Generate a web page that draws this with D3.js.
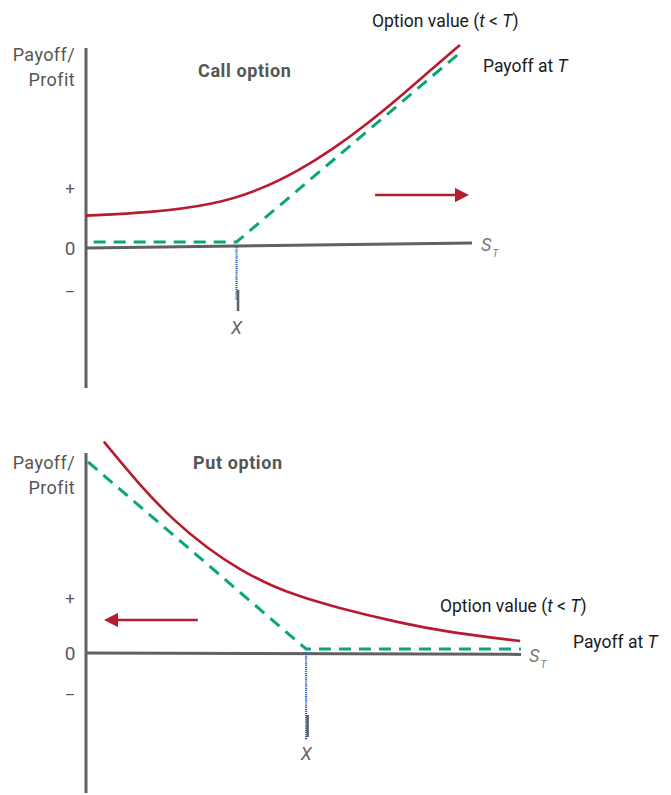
<!DOCTYPE html>
<html><head><meta charset="utf-8">
<script src="https://cdn.jsdelivr.net/npm/d3@7"></script>
<style>body{margin:0;background:#fff}svg{display:block}</style>
</head><body>
<svg id="chart" width="671" height="795"></svg>
<script>
// ---------- DATA ----------
const panels = ["Call option", "Put option"];
const yTickLabels = ["+", "0", "\u2013"];
const callTickValues = [30, 0, -22];
const putTickValues = [27.5, 0, -21];
const callStrike = 39;
const putStrike = 50.6;
// option value before expiry (t < T): [S, value]
const callValueX = [0, 16.6, 32.9, 45.1, 55.4, 64.0, 72.8, 81.3, 89.9, 96.9];
const callValueY = [16.2, 17.7, 21.5, 29, 39, 49.5, 62, 75.5, 90, 101.5];
const putValueX = [4.1, 12.4, 20, 27.8, 35.4, 43, 49.2, 56.8, 72.2, 83.7, 99.8];
const putValueY = [105.7, 83.8, 66.5, 52.5, 41.5, 33.2, 28.2, 23.2, 15, 10.2, 6];
// payoff at expiry T
const callPayoffX = [2, 39, 97.4];
const callPayoffY = [3, 3, 98.5];
const putPayoffX = [0.5, 50.6, 100];
const putPayoffY = [95.5, 2, 2];
// horizontal axis end heights (drawn slightly tilted in source)
const callAxisY = [0, 2.5];
const putAxisY = [0, -0.7];
// direction arrows [x0, x1, y]
const callArrow = [74.9, 99.5, 26.5];
const putArrow = [25.7, 3.9, 16.5];

const svg = d3.select("#chart");
const RED = "#b71c2e", GREEN = "#0aa67a", GRAY = "#606060", BLUE = "#2a62c0";
const FONT = "Roboto, 'Noto Sans', sans-serif";

svg.append("defs").append("marker")
  .attr("id", "arrow").attr("viewBox", "0 0 10 10").attr("refX", 5).attr("refY", 5)
  .attr("markerWidth", 5.5).attr("markerHeight", 5.5).attr("orient", "auto")
  .append("path").attr("d", "M0,0 L10,5 L0,10 Z").attr("fill", RED);

const tickSizes = [17, 19, 16];

function drawPanel(cfg) {
  const x = d3.scaleLinear().domain([0, 100]).range(cfg.xRange);
  const y = d3.scaleLinear().domain([-70, 100]).range(cfg.yRange);
  const g = svg.append("g");

  g.append("line").attr("x1", x(0)).attr("x2", x(0))
    .attr("y1", y(100)).attr("y2", y(-70))
    .attr("stroke", GRAY).attr("stroke-width", 3);
  g.append("line").attr("x1", x(0)).attr("x2", x(100))
    .attr("y1", y(cfg.axisY[0])).attr("y2", y(cfg.axisY[1]))
    .attr("stroke", GRAY).attr("stroke-width", 3);

  yTickLabels.forEach((t, i) => {
    g.append("text").attr("x", x(0) - 16).attr("y", y(cfg.ticks[i]))
      .attr("text-anchor", "middle").attr("dominant-baseline", "central")
      .attr("font-family", FONT).attr("font-size", tickSizes[i]).attr("fill", "#5a5a5a").text(t);
  });

  const yt = g.append("text").attr("text-anchor", "end")
    .attr("font-family", FONT).attr("font-size", 18).attr("fill", "#555")
    .attr("letter-spacing", 0.4);
  yt.append("tspan").attr("x", x(0) - 11).attr("y", cfg.titleY).text("Payoff/");
  yt.append("tspan").attr("x", x(0) - 11).attr("y", cfg.titleY + 25).text("Profit");

  g.append("text").attr("x", cfg.panelTitle[0]).attr("y", cfg.panelTitle[1])
    .attr("font-family", FONT).attr("font-size", 18).attr("font-weight", "bold")
    .attr("letter-spacing", 0.6).attr("fill", "#555").text(cfg.name);

  g.append("line").attr("x1", x(cfg.strike)).attr("x2", x(cfg.strike))
    .attr("y1", y(cfg.dot[0])).attr("y2", y(cfg.dot[1]))
    .attr("stroke", BLUE).attr("stroke-width", 2.2).attr("stroke-dasharray", "1.2,0.9");
  g.append("line").attr("x1", x(cfg.strike) + 1.5).attr("x2", x(cfg.strike) + 1.5)
    .attr("y1", y(cfg.tick[0])).attr("y2", y(cfg.tick[1]))
    .attr("stroke", GRAY).attr("stroke-width", 2.5);
  g.append("text").attr("x", x(cfg.strike)).attr("y", y(cfg.tick[1]) + 16)
    .attr("text-anchor", "middle").attr("dominant-baseline", "central")
    .attr("font-family", FONT).attr("font-size", 18).attr("font-style", "italic")
    .attr("fill", "#666").text("X");

  const st = g.append("text").attr("x", cfg.st[0]).attr("y", cfg.st[1])
    .attr("font-family", FONT).attr("font-size", 18).attr("font-style", "italic").attr("fill", "#777");
  st.append("tspan").text("S");
  st.append("tspan").attr("font-size", 10).attr("dy", 6).attr("dx", 1).text("T");

  const line = d3.line().x(d => x(d[0])).y(d => y(d[1]));
  const curve = d3.line().x(d => x(d[0])).y(d => y(d[1])).curve(d3.curveBasis);

  g.append("path").attr("d", line(d3.zip(cfg.payX, cfg.payY)))
    .attr("fill", "none").attr("stroke", GREEN).attr("stroke-width", 3)
    .attr("stroke-dasharray", "12,8");
  g.append("path").attr("d", curve(d3.zip(cfg.valX, cfg.valY)))
    .attr("fill", "none").attr("stroke", RED).attr("stroke-width", 2.6);

  g.append("line").attr("x1", x(cfg.arrow[0])).attr("x2", x(cfg.arrow[1]) + (cfg.arrow[1] > cfg.arrow[0] ? -8 : 8))
    .attr("y1", y(cfg.arrow[2])).attr("y2", y(cfg.arrow[2]))
    .attr("stroke", RED).attr("stroke-width", 2.6).attr("marker-end", "url(#arrow)");

  const ov = g.append("text").attr("x", cfg.ovLabel[0]).attr("y", cfg.ovLabel[1])
    .attr("dominant-baseline", "central")
    .attr("font-family", FONT).attr("font-size", 17.5).attr("fill", "#1a1a1a");
  ov.append("tspan").text("Option value (");
  ov.append("tspan").attr("font-style", "italic").text("t");
  ov.append("tspan").text(" < ");
  ov.append("tspan").attr("font-style", "italic").text("T");
  ov.append("tspan").text(")");
  const pl = g.append("text").attr("x", cfg.payLabel[0]).attr("y", cfg.payLabel[1])
    .attr("dominant-baseline", "central")
    .attr("font-family", FONT).attr("font-size", 17.5).attr("fill", "#1a1a1a");
  pl.append("tspan").text("Payoff at ");
  pl.append("tspan").attr("font-style", "italic").text("T");
}

drawPanel({
  name: panels[0], xRange: [86, 472], yRange: [388, 48], axisY: callAxisY,
  ticks: callTickValues, titleY: 61, panelTitle: [198, 77], strike: callStrike,
  dot: [1.5, -26], tick: [-21, -31.5], st: [481, 251],
  payX: callPayoffX, payY: callPayoffY, valX: callValueX, valY: callValueY,
  arrow: callArrow, ovLabel: [372, 21], payLabel: [483, 66]
});
drawPanel({
  name: panels[1], xRange: [86, 521], yRange: [793, 453], axisY: putAxisY,
  ticks: putTickValues, titleY: 469, panelTitle: [193, 469], strike: putStrike,
  dot: [0.5, -43.5], tick: [-31, -42], st: [529, 662],
  payX: putPayoffX, payY: putPayoffY, valX: putValueX, valY: putValueY,
  arrow: putArrow, ovLabel: [440, 606], payLabel: [573, 642]
});
</script>
</body></html>
